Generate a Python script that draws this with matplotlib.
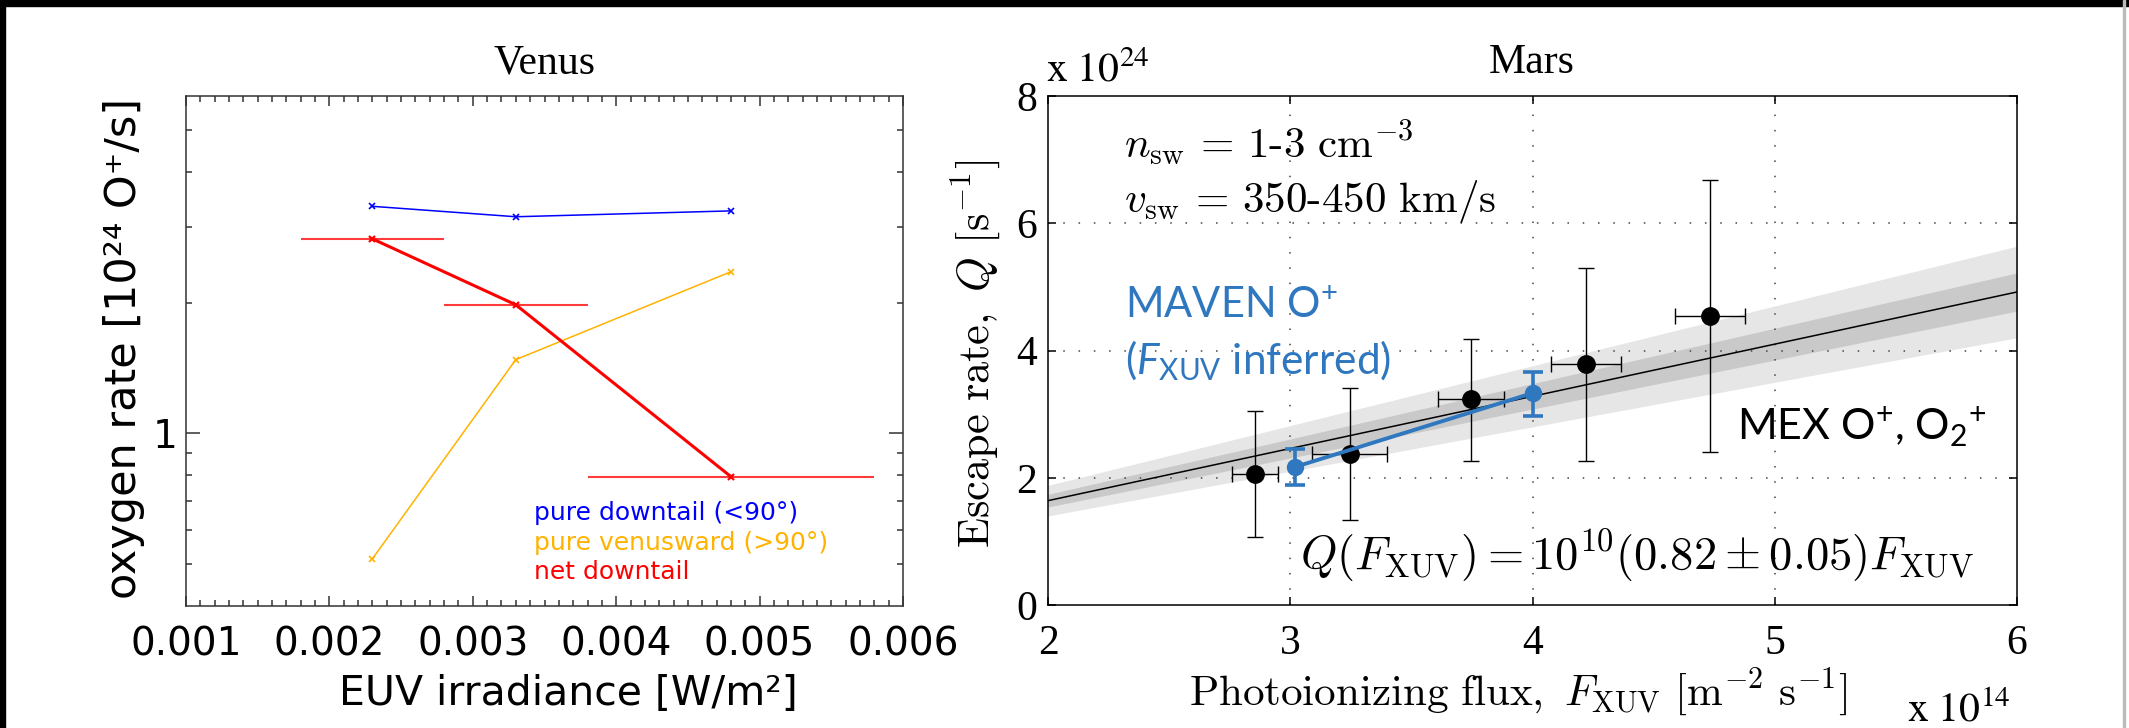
import matplotlib
matplotlib.use("Agg")
import matplotlib.pyplot as plt
import numpy as np
from matplotlib.ticker import FixedLocator, NullFormatter, FixedFormatter, MultipleLocator
from matplotlib.patches import Rectangle

# ---------------- data ----------------
# Venus
venus_euv = [0.0023, 0.0033, 0.0048]
venus_euv_err = [0.0005, 0.0005, 0.0010]
venus_downtail = [3.34, 3.16, 3.26]
venus_venusward = [0.514, 1.48, 2.36]
venus_net = [2.81, 1.98, 0.795]
venus_xticks = [0.001, 0.002, 0.003, 0.004, 0.005, 0.006]
venus_xticklabels = ["0.001", "0.002", "0.003", "0.004", "0.005", "0.006"]

# Mars (flux in 1e14 m^-2 s^-1, rate in 1e24 s^-1)
mex_flux = [2.854, 3.246, 3.746, 4.220, 4.732]
mex_flux_err = [0.095, 0.155, 0.135, 0.145, 0.145]
mex_rate = [2.06, 2.37, 3.24, 3.79, 4.55]
mex_rate_lo = [1.07, 1.34, 2.26, 2.26, 2.40]
mex_rate_hi = [3.05, 3.41, 4.18, 5.30, 6.68]
maven_flux = [3.02, 4.00]
maven_rate = [2.17, 3.33]
maven_lo = [1.89, 2.97]
maven_hi = [2.45, 3.66]
fit_x = [2.0, 6.0]
fit_slope = 0.82
fit_slope_err = 0.05
fit_slope_err_wide = 0.12
mars_xticks = [2, 3, 4, 5, 6]
mars_yticks = [0, 2, 4, 6, 8]

# ---------------- figure ----------------
W, H, DPI = 2129, 728, 100
plt.rcParams["mathtext.fontset"] = "custom"
plt.rcParams["mathtext.rm"] = "Lato"
plt.rcParams["mathtext.it"] = "Lato:italic"
plt.rcParams["mathtext.bf"] = "Lato:bold"
fig = plt.figure(figsize=(W / DPI, H / DPI), dpi=DPI)
fig.patch.set_facecolor("white")


def px_axes(l, t, r, b):
    return fig.add_axes([l / W, 1 - b / H, (r - l) / W, (b - t) / H])


def ptext(x, y, s, **kw):
    return fig.text(x / W, 1 - y / H, s, **kw)


SANS = dict(family=["DejaVu Sans", "Noto Sans"])
SERIF = dict(family="Liberation Serif")

# ---------------- Venus ----------------
ax = px_axes(186, 96, 903, 606)
ax.set_yscale("log")
ax.set_xlim(0.001, 0.006)
ax.set_ylim(0.4, 6.0)
for s in ax.spines.values():
    s.set_color("#333333")
    s.set_linewidth(1.1)

ax.errorbar(venus_euv, venus_net, xerr=venus_euv_err, fmt="none",
            ecolor="#ff3b3b", elinewidth=1.5, capsize=0, zorder=2)
ax.plot(venus_euv, venus_downtail, color="#0000ff", lw=1.1, marker="x",
        ms=5, mew=1.2, zorder=3)
ax.plot(venus_euv, venus_venusward, color="#ffb300", lw=1.1, marker="x",
        ms=5, mew=1.2, zorder=3)
ax.plot(venus_euv, venus_net, color="#ff0000", lw=2.2, marker="x",
        ms=5, mew=1.6, zorder=4)

ax.xaxis.set_major_locator(FixedLocator(venus_xticks))
ax.xaxis.set_major_formatter(FixedFormatter(venus_xticklabels))
ax.xaxis.set_minor_locator(MultipleLocator(0.0001))
ax.yaxis.set_major_locator(FixedLocator([1.0]))
ax.yaxis.set_major_formatter(FixedFormatter(["1"]))
ax.yaxis.set_minor_locator(FixedLocator([0.5, 0.6, 0.7, 0.8, 0.9, 2, 3, 4, 5]))
ax.yaxis.set_minor_formatter(NullFormatter())
ax.tick_params(which="both", direction="in", top=True, right=True,
               color="#333333", width=1.1)
ax.tick_params(axis="x", which="major", length=7, pad=14)
ax.tick_params(axis="x", which="minor", length=4)
ax.tick_params(axis="y", which="major", length=10, pad=6)
ax.tick_params(axis="y", which="minor", length=4.5)
for lab in ax.get_xticklabels() + ax.get_yticklabels():
    lab.set_fontsize(28)
    lab.set_fontfamily("DejaVu Sans")

ptext(544, 63, "Venus", ha="center", va="center", fontsize=30, **SERIF)
ptext(568, 694, "EUV irradiance [W/m²]", ha="center", va="center",
      fontsize=29.5, **SANS)
ptext(124, 348, "oxygen rate [10²⁴ O⁺/s]", ha="center", va="center",
      rotation=90, fontsize=31, **SANS)
ptext(534, 513, "pure downtail (<90°)", color="#0000ff", fontsize=18,
      va="center", **SANS)
ptext(534, 543, "pure venusward (>90°)", color="#ffb300", fontsize=18,
      va="center", **SANS)
ptext(534, 572, "net downtail", color="#ff0000", fontsize=18,
      va="center", **SANS)

# ---------------- Mars ----------------
bx = px_axes(1048, 96, 2017, 605)
bx.set_xlim(2, 6)
bx.set_ylim(0, 8)
for s in bx.spines.values():
    s.set_color("black")
    s.set_linewidth(1.1)

fx = np.array(fit_x)
bx.fill_between(fx, (fit_slope - fit_slope_err_wide) * fx,
                (fit_slope + fit_slope_err_wide) * fx,
                color="#e6e6e6", lw=0, zorder=1)
bx.fill_between(fx, (fit_slope - fit_slope_err) * fx,
                (fit_slope + fit_slope_err) * fx,
                color="#c9c9c9", lw=0, zorder=1.1)
bx.plot(fx, fit_slope * fx, color="black", lw=1.1, zorder=2)

for v in [3, 4, 5]:
    bx.axvline(v, color="#444444", lw=1.1, ls=(0, (1, 9)), zorder=1.5)
for v in [2, 4, 6]:
    bx.axhline(v, color="#444444", lw=1.1, ls=(0, (1, 9)), zorder=1.5)

mr = np.array(mex_rate)
yerr = [mr - np.array(mex_rate_lo), np.array(mex_rate_hi) - mr]
bx.errorbar(mex_flux, mex_rate, xerr=mex_flux_err, yerr=yerr, fmt="o",
            color="black", ms=12.5, elinewidth=1.0, capsize=6, capthick=1.0,
            zorder=4)

mv = np.array(maven_rate)
myerr = [mv - np.array(maven_lo), np.array(maven_hi) - mv]
bx.plot(maven_flux, maven_rate, color="#2f78c0", lw=2.8, zorder=5)
bx.errorbar(maven_flux, maven_rate, yerr=myerr, fmt="o", color="#2f78c0",
            ms=11.5, elinewidth=2.6, capsize=7, capthick=2.6, zorder=5)

bx.xaxis.set_major_locator(FixedLocator(mars_xticks))
bx.xaxis.set_major_formatter(FixedFormatter([str(v) for v in mars_xticks]))
bx.yaxis.set_major_locator(FixedLocator(mars_yticks))
bx.yaxis.set_major_formatter(FixedFormatter([str(v) for v in mars_yticks]))
bx.tick_params(which="both", direction="in", top=True, right=True,
               length=6, width=1.1, color="black")
bx.tick_params(axis="x", pad=14)
bx.tick_params(axis="y", pad=8)
for lab in bx.get_xticklabels() + bx.get_yticklabels():
    lab.set_fontsize(30)
    lab.set_fontfamily("Liberation Serif")

ptext(1532, 63, "Mars", ha="center", va="center", fontsize=30, **SERIF)
ptext(1046, 82, r"$\mathrm{x\ 10}^{24}$", ha="left", va="baseline",
      fontsize=30, math_fontfamily="stix")
ptext(1907, 722, r"$\mathrm{x\ 10}^{14}$", ha="left", va="baseline",
      fontsize=30, math_fontfamily="stix")

ptext(976, 354, r"$\mathrm{Escape\ rate,}\ Q\ [\mathrm{s}^{-1}]$",
      ha="center", va="center", rotation=90, fontsize=32, math_fontfamily="cm")
ptext(1518, 705, r"$\mathrm{Photoionizing\ flux,}\ F_{\mathrm{XUV}}\ [\mathrm{m}^{-2}\ \mathrm{s}^{-1}]$",
      ha="center", va="baseline", fontsize=31, math_fontfamily="cm")
ptext(1124, 158, r"$n_{\mathrm{sw}}\, =\, \mathrm{1\text{-}3\ cm}^{-3}$",
      ha="left", va="baseline", fontsize=31, math_fontfamily="cm")
ptext(1124, 212, r"$v_{\mathrm{sw}}\, =\, \mathrm{350\text{-}450\ km/s}$",
      ha="left", va="baseline", fontsize=31, math_fontfamily="cm")
ptext(1300, 570, r"$Q(F_{\mathrm{XUV}}) = 10^{10}(0.82 \pm 0.05)F_{\mathrm{XUV}}$",
      ha="left", va="baseline", fontsize=33.5, math_fontfamily="cm")

ptext(1125, 318, r"MAVEN O$^{+}$", ha="left", va="baseline", fontsize=30,
      color="#2f78c0", family="Lato", math_fontfamily="custom")
ptext(1125, 374, r"($F_{\mathrm{XUV}}$ inferred)", ha="left", va="baseline",
      fontsize=30.5, color="#2f78c0", family="Lato", math_fontfamily="custom")
ptext(1737, 440, r"MEX O$^{+}$, O$_{2}{}^{+}$", ha="left", va="baseline",
      fontsize=31, color="black", family="Lato", math_fontfamily="custom")

# frame decorations (black borders of the slide)
fig.patches.append(Rectangle((0, 1 - 6 / H), 1, 6 / H, transform=fig.transFigure,
                             color="black", zorder=10))
fig.patches.append(Rectangle((0, 0), 5 / W, 1, transform=fig.transFigure,
                             color="black", zorder=10))
fig.patches.append(Rectangle((2123 / W, 0), 1.5 / W, 1, transform=fig.transFigure,
                             color="#bbbbbb", zorder=10))

fig.savefig("out.png", dpi=DPI)
